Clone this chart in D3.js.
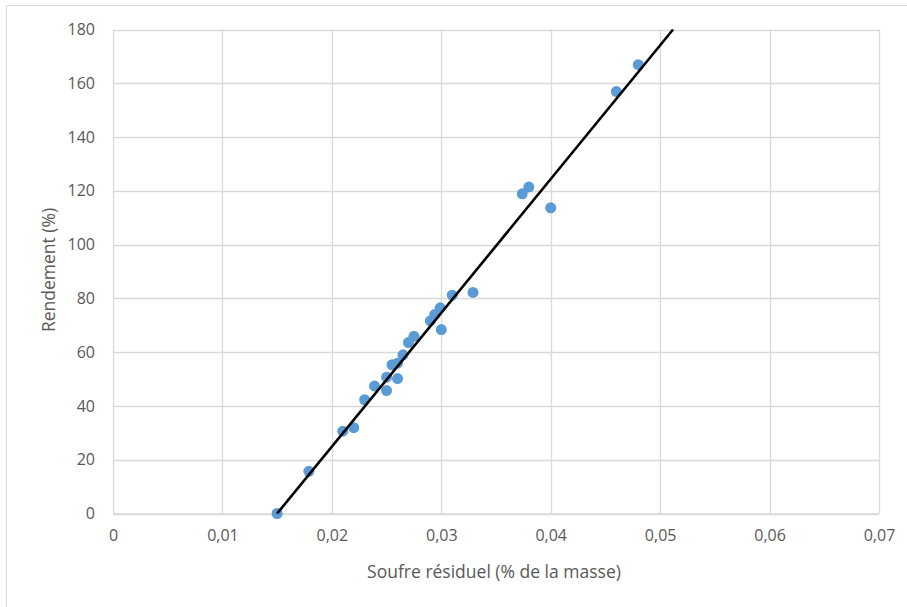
<!DOCTYPE html>
<html>
<head>
<meta charset="utf-8">
<script src="https://cdn.jsdelivr.net/npm/d3@7"></script>
<style>
  html, body { margin: 0; padding: 0; background: #fff; }
  svg { display: block; }
</style>
</head>
<body>
<svg id="chart" width="907" height="607"></svg>
<script>
// Data
const soufre = [0.015, 0.0179, 0.0210, 0.0220, 0.0230, 0.0239, 0.0250, 0.0250, 0.0255, 0.0260, 0.0260, 0.0265, 0.0270, 0.0275, 0.0290, 0.0294, 0.0299, 0.0300, 0.0310, 0.0329, 0.0374, 0.0380, 0.0400, 0.0460, 0.0480];
const rendement = [0.0, 15.7, 30.6, 31.9, 42.3, 47.4, 45.7, 50.7, 55.3, 50.2, 55.9, 59.0, 63.6, 65.9, 71.6, 74.0, 76.5, 68.4, 81.2, 82.2, 118.9, 121.4, 113.7, 156.9, 166.9];
const trendX = [0.015, 0.05118];
const trendY = [0, 180];
const xTicks = [0, 0.01, 0.02, 0.03, 0.04, 0.05, 0.06, 0.07];
const yTicks = [0, 20, 40, 60, 80, 100, 120, 140, 160, 180];
const xTitle = "Soufre résiduel (% de la masse)";
const yTitle = "Rendement (%)";

const svg = d3.select("#chart");
const pLeft = 113, pRight = 879, pTop = 29.5, pBottom = 513.5;
const x = d3.scaleLinear().domain([0, 0.07]).range([pLeft, pRight]);
const y = d3.scaleLinear().domain([0, 180]).range([pBottom, pTop]);
const fmt = d => d === 0 ? "0" : d3.format(".2f")(d).replace(".", ",");
const font = "'Open Sans', 'Noto Sans', sans-serif";

// outer border
svg.append("rect").attr("x", 6.5).attr("y", 5.5).attr("width", 920).attr("height", 620)
  .attr("fill", "none").attr("stroke", "#d9d9d9").attr("stroke-width", 1);

// gridlines
svg.append("g").selectAll("line").data(yTicks).join("line")
  .attr("x1", pLeft).attr("x2", pRight)
  .attr("y1", d => Math.round(y(d)) + 0.5).attr("y2", d => Math.round(y(d)) + 0.5)
  .attr("stroke", "#d9d9d9").attr("stroke-width", 1.3);
svg.append("g").selectAll("line").data(xTicks).join("line")
  .attr("y1", pTop).attr("y2", pBottom)
  .attr("x1", d => Math.round(x(d)) + 0.5).attr("x2", d => Math.round(x(d)) + 0.5)
  .attr("stroke", "#d9d9d9").attr("stroke-width", 1.3);

// axes (labels via d3 axes)
const xAxis = d3.axisBottom(x).tickValues(xTicks).tickFormat(fmt).tickSize(0).tickPadding(16);
const gx = svg.append("g").attr("transform", `translate(0,${pBottom})`).call(xAxis);
gx.select(".domain").attr("stroke", "#d9d9d9").attr("stroke-width", 1.3);
gx.selectAll("text").attr("fill", "#595959").style("font-family", font).style("font-size", "16px");

const yAxis = d3.axisLeft(y).tickValues(yTicks).tickSize(0).tickPadding(18);
const gy = svg.append("g").attr("transform", `translate(${pLeft},0)`).call(yAxis);
gy.select(".domain").remove();
gy.selectAll("text").attr("fill", "#595959").style("font-family", font).style("font-size", "16px");

// points
const pts = soufre.map((s, i) => [s, rendement[i]]);
svg.append("g").selectAll("circle").data(pts).join("circle")
  .attr("cx", d => x(d[0])).attr("cy", d => y(d[1])).attr("r", 5.5)
  .attr("fill", "#5b9bd5");

// trendline (drawn above points)
svg.append("line")
  .attr("x1", x(trendX[0])).attr("y1", y(trendY[0]))
  .attr("x2", x(trendX[1])).attr("y2", y(trendY[1]))
  .attr("stroke", "#000").attr("stroke-width", 2.6);

// titles
svg.append("text").attr("x", 494).attr("y", 578)
  .attr("text-anchor", "middle").attr("fill", "#595959")
  .style("font-family", font).style("font-size", "17.5px").text(xTitle);
svg.append("text").attr("transform", `translate(55,270) rotate(-90)`)
  .attr("text-anchor", "middle").attr("fill", "#595959")
  .style("font-family", font).style("font-size", "17.5px").text(yTitle);
</script>
</body>
</html>
